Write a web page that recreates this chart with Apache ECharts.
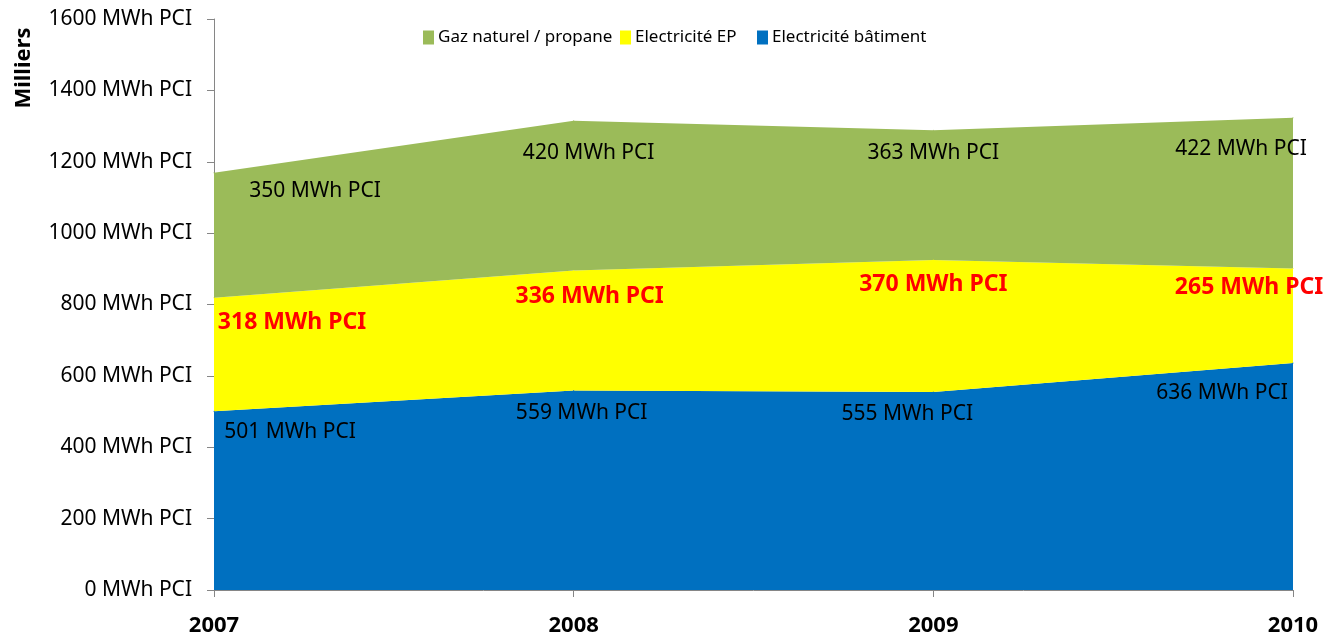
<!DOCTYPE html>
<html><head><meta charset="utf-8">
<script src="https://cdn.jsdelivr.net/npm/echarts@6/dist/echarts.min.js"></script>
<style>html,body{margin:0;padding:0;background:#fff;overflow:hidden}#c{width:1329px;height:637px}</style>
</head><body><div id="c"></div>
<script>
const years = ['2007', '2008', '2009', '2010'];
const batiment = [501, 559, 555, 636];
const ep = [318, 336, 370, 265];
const gaz = [350, 420, 363, 422];
const seriesNames = ['Electricité bâtiment', 'Electricité EP', 'Gaz naturel / propane'];
const unit = ' MWh PCI';
const axisTitle = 'Milliers';
const yMin = 0, yMax = 1600, yStep = 200;

// label placement offsets (px) relative to each point
const batimentOffsets = [[76, 21], [8, 23], [-26, 22], [-71, 30]];
const epOffsets = [[78, 25], [16, 26], [0, 25], [-44, 19]];
const gazOffsets = [[101, 18], [15, 32], [0, 23], [-52, 31]];

const colors = ['#0070C0', '#FFFF00', '#9BBB59'];
const FONT = 'Noto Sans';

function mk(name, vals, offs, color, bold) {
  return {
    name: name, type: 'line', stack: 'total',
    data: vals.map((v, i) => ({ value: v, label: { offset: offs[i] } })),
    symbol: 'circle', symbolSize: 1, showSymbol: true,
    itemStyle: { color: color },
    lineStyle: { width: 0, color: color },
    areaStyle: { color: color, opacity: 1 },
    emphasis: { disabled: true },
    label: {
      show: true, position: 'inside',
      formatter: p => p.value + unit,
      fontFamily: FONT,
      fontSize: bold ? 23 : 21,
      fontWeight: bold ? 'bold' : 'normal',
      color: bold ? '#FF0000' : '#000'
    }
  };
}

function legendAt(name, left) {
  return {
    data: [name], left: left, top: 29, padding: 0, icon: 'rect', itemWidth: 11, itemHeight: 14,
    textStyle: { fontFamily: FONT, fontSize: 17, color: '#000', padding: [0, 0, 0, -1] },
    selectedMode: false
  };
}

const chart = echarts.init(document.getElementById('c'));
chart.setOption({
  animation: false,
  grid: { left: 214, right: 36, top: 19, bottom: 46 },
  legend: [
    legendAt(seriesNames[2], 423),
    legendAt(seriesNames[1], 620),
    legendAt(seriesNames[0], 757)
  ],
  graphic: [{
    type: 'text', x: 24, y: 68, rotation: Math.PI / 2,
    style: { text: axisTitle, fontFamily: FONT, fontSize: 22, fontWeight: 'bold', fill: '#000',
      align: 'center', verticalAlign: 'middle' }
  }],
  xAxis: {
    type: 'category', data: years, boundaryGap: false,
    axisLine: { lineStyle: { color: '#868686', width: 1 } },
    axisTick: { show: true, alignWithLabel: true, length: 7, lineStyle: { color: '#868686' } },
    axisLabel: { fontFamily: FONT, fontSize: 22, fontWeight: 'bold', color: '#000', margin: 25 },
    splitLine: { show: false }
  },
  yAxis: {
    type: 'value', min: yMin, max: yMax, interval: yStep,
    axisLine: { show: true, lineStyle: { color: '#868686', width: 1 } },
    axisTick: { show: true, length: 7, lineStyle: { color: '#868686' } },
    axisLabel: { fontFamily: FONT, fontSize: 21, color: '#000', margin: 22, formatter: v => v + unit },
    splitLine: { show: false }
  },
  series: [
    mk(seriesNames[0], batiment, batimentOffsets, colors[0], false),
    mk(seriesNames[1], ep, epOffsets, colors[1], true),
    mk(seriesNames[2], gaz, gazOffsets, colors[2], false)
  ]
});
</script>
</body></html>
